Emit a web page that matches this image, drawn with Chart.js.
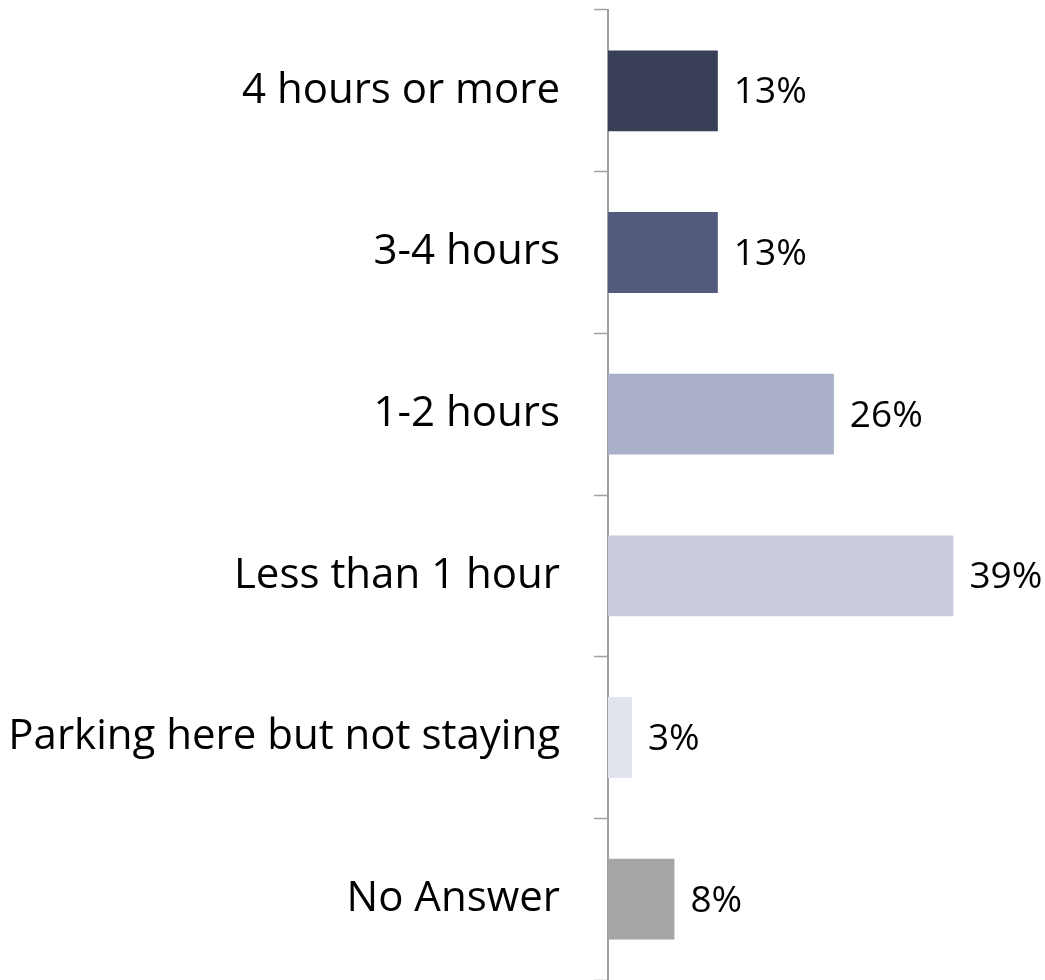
<!DOCTYPE html>
<html>
<head>
<meta charset="utf-8">
<script src="https://cdn.jsdelivr.net/npm/chart.js@4"></script>
<style>
  html, body { margin: 0; padding: 0; background: #fff; }
  #wrap { width: 1045px; height: 980px; }
</style>
</head>
<body>
<div id="wrap"><canvas id="chartCanvas" width="1045" height="980"></canvas></div>
<script>
// categories, top to bottom
const categories = [
    '4 hours or more',
    '3-4 hours',
    '1-2 hours',
    'Less than 1 hour',
    'Parking here but not staying',
    'No Answer'
];
// bar lengths (percent)
const shares = [12.4, 12.4, 25.5, 39, 2.7, 7.5];
// printed labels next to the bars
const shareLabels = ['13%', '13%', '26%', '39%', '3%', '8%'];
const barColors = ['#3a3f58', '#525a7e', '#aab0c8', '#c8ccdb', '#e1e4ec', '#a6a6a6'];

const valueFont = '37px "Open Sans"';

// percent labels to the right of the bars
const valueLabels = {
    id: 'valueLabels',
    afterDatasetsDraw(chart) {
        const ctx = chart.ctx;
        const meta = chart.getDatasetMeta(0);
        ctx.save();
        ctx.font = valueFont;
        ctx.fillStyle = '#000';
        ctx.textAlign = 'left';
        ctx.textBaseline = 'middle';
        meta.data.forEach((bar, i) => {
            ctx.fillText(shareLabels[i], bar.x + 16, bar.y + 2);
        });
        ctx.restore();
    }
};

const ctx = document.getElementById('chartCanvas').getContext('2d');

new Chart(ctx, {
    type: 'bar',
    data: {
        labels: categories,
        datasets: [{
            data: shares,
            backgroundColor: barColors,
            borderWidth: 0,
            barPercentage: 0.5,
            categoryPercentage: 1.0
        }]
    },
    options: {
        indexAxis: 'y',
        responsive: false,
        animation: false,
        layout: { padding: { top: 10, right: 3, bottom: 0, left: 0 } },
        plugins: {
            legend: { display: false },
            tooltip: { enabled: false }
        },
        scales: {
            x: {
                display: false,
                min: 0,
                max: 49
            },
            y: {
                afterFit(scale) {
                    scale.width = 608;
                    scale.paddingTop = 0;
                    scale.paddingBottom = 0;
                },
                border: { display: true, color: '#a0a0a0', width: 2 },
                grid: {
                    drawOnChartArea: false,
                    drawTicks: true,
                    tickLength: 14,
                    tickWidth: 1.5,
                    tickColor: '#a0a0a0'
                },
                ticks: {
                    color: '#000',
                    padding: 34,
                    font: { family: 'Open Sans', size: 42 }
                }
            }
        }
    },
    plugins: [valueLabels]
});
</script>
</body>
</html>
